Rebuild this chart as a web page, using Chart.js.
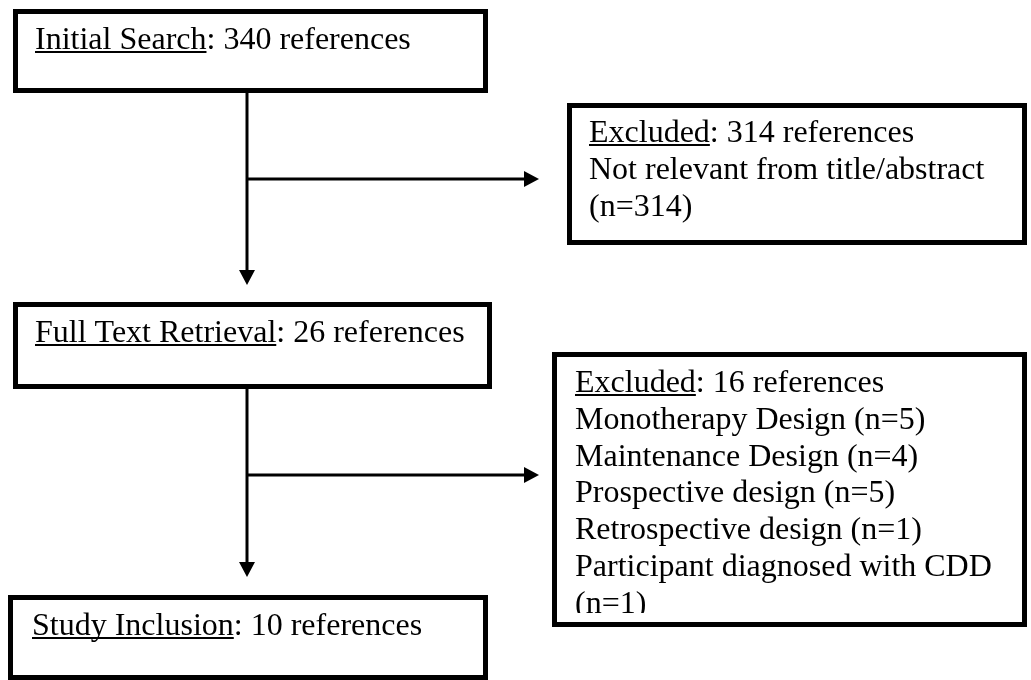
<!DOCTYPE html>
<html>
<head>
<meta charset="utf-8">
<script src="https://cdn.jsdelivr.net/npm/chart.js@4.4.1/dist/chart.umd.min.js"></script>
<style>
  html, body { margin: 0; padding: 0; background: #fff; }
  #wrap { width: 1031px; height: 680px; }
</style>
</head>
<body>
<div id="wrap"><canvas id="flow" width="1031" height="680"></canvas></div>
<script>
// flow chart content
const stageTitles = ['Initial Search', 'Full Text Retrieval', 'Study Inclusion'];
const stageCounts = [340, 26, 10];
const excludedCounts = [314, 16];
const reasonsFirst = ['Not relevant from title/abstract'];
const reasonsFirstN = [314];
const reasonsSecond = ['Monotherapy Design', 'Maintenance Design', 'Prospective design', 'Retrospective design', 'Participant diagnosed with CDD'];
const reasonsSecondN = [5, 4, 5, 1, 1];

// layout in canvas units (x: 0..1031, y: 0..680 top-down)
const FONT = '32px "Liberation Serif", "Times New Roman", serif';
const LINE_H = 36.8;
const BORDER = 5;
const boxes = [
  { x: 13, y: 9, w: 475, h: 84, tx: 35, ty: 49, clipB: 88 },      // initial search
  { x: 567, y: 103, w: 460, h: 142, tx: 589, ty: 142, clipB: 240 }, // excluded 1
  { x: 13, y: 302, w: 479, h: 87, tx: 35, ty: 342, clipB: 384 },   // full text
  { x: 552, y: 352, w: 475, h: 275, tx: 575, ty: 392, clipB: 613 }, // excluded 2
  { x: 8, y: 595, w: 480, h: 85, tx: 32, ty: 635, clipB: 675 }     // inclusion
];
const arrows = [
  { x1: 247, y1: 93, x2: 247, y2: 285 },
  { x1: 247, y1: 179, x2: 539, y2: 179 },
  { x1: 247, y1: 389, x2: 247, y2: 577 },
  { x1: 247, y1: 475, x2: 539, y2: 475 }
];

function boxLines(i) {
  if (i === 0) return { title: stageTitles[0], rest: ': ' + stageCounts[0] + ' references', lines: [] };
  if (i === 2) return { title: stageTitles[1], rest: ': ' + stageCounts[1] + ' references', lines: [] };
  if (i === 4) return { title: stageTitles[2], rest: ': ' + stageCounts[2] + ' references', lines: [] };
  if (i === 1) return { title: 'Excluded', rest: ': ' + excludedCounts[0] + ' references',
    lines: reasonsFirst.map((r, k) => r + ' (n=' + reasonsFirstN[k] + ')') };
  return { title: 'Excluded', rest: ': ' + excludedCounts[1] + ' references',
    lines: reasonsSecond.map((r, k) => r + ' (n=' + reasonsSecondN[k] + ')') };
}

function wrap(ctx, text, maxW) {
  const words = text.split(' ');
  const out = [];
  let cur = '';
  words.forEach(w => {
    const t = cur ? cur + ' ' + w : w;
    if (ctx.measureText(t).width > maxW && cur) { out.push(cur); cur = w; }
    else cur = t;
  });
  if (cur) out.push(cur);
  return out;
}

const flowPlugin = {
  id: 'flow',
  beforeDraw(chart) {
    const ctx = chart.ctx;
    ctx.save();
    ctx.fillStyle = '#fff';
    ctx.fillRect(0, 0, chart.width, chart.height);
    ctx.restore();
  },
  afterDraw(chart) {
    const ctx = chart.ctx;
    const sx = chart.scales.x, sy = chart.scales.y;
    const px = v => sx.getPixelForValue(v);
    const py = v => sy.getPixelForValue(v);
    ctx.save();
    ctx.strokeStyle = '#000';
    ctx.fillStyle = '#000';

    boxes.forEach((b, i) => {
      const x0 = px(b.x), y0 = py(b.y), x1 = px(b.x + b.w), y1 = py(b.y + b.h);
      ctx.lineWidth = BORDER;
      ctx.strokeRect(x0 + BORDER / 2, y0 + BORDER / 2, x1 - x0 - BORDER, y1 - y0 - BORDER);

      // text is clipped to the box's inner margin, like the source text box
      ctx.save();
      ctx.beginPath();
      ctx.rect(x0 + BORDER, y0 + BORDER, x1 - x0 - 2 * BORDER, py(b.clipB) - y0 - BORDER);
      ctx.clip();
      ctx.font = FONT;
      ctx.textBaseline = 'alphabetic';
      ctx.textAlign = 'left';
      const c = boxLines(i);
      const tx = px(b.tx);
      let ty = py(b.ty);
      ctx.fillText(c.title, tx, ty);
      const tw = ctx.measureText(c.title).width;
      ctx.fillRect(tx, ty + 2, tw, 2);
      ctx.fillText(c.rest, tx + tw, ty);
      const maxW = x1 - BORDER - tx - 6;
      c.lines.forEach(l => {
        wrap(ctx, l, maxW).forEach(s => {
          ty += LINE_H;
          ctx.fillText(s, tx, ty);
        });
      });
      ctx.restore();
    });

    ctx.lineWidth = 3;
    arrows.forEach(a => {
      const x1 = px(a.x1), y1 = py(a.y1), x2 = px(a.x2), y2 = py(a.y2);
      const ang = Math.atan2(y2 - y1, x2 - x1);
      const len = 15, half = 8;
      const bx = x2 - len * Math.cos(ang), by = y2 - len * Math.sin(ang);
      ctx.beginPath();
      ctx.moveTo(x1, y1);
      ctx.lineTo(bx, by);
      ctx.stroke();
      ctx.beginPath();
      ctx.moveTo(x2, y2);
      ctx.lineTo(bx - half * Math.sin(ang), by + half * Math.cos(ang));
      ctx.lineTo(bx + half * Math.sin(ang), by - half * Math.cos(ang));
      ctx.closePath();
      ctx.fill();
    });
    ctx.restore();
  }
};

new Chart(document.getElementById('flow').getContext('2d'), {
  type: 'scatter',
  data: { datasets: [{ data: [] }] },
  options: {
    responsive: false,
    animation: false,
    devicePixelRatio: 1,
    layout: { padding: 0 },
    plugins: { legend: { display: false }, tooltip: { enabled: false } },
    scales: {
      x: { type: 'linear', min: 0, max: 1031, display: false },
      y: { type: 'linear', min: 0, max: 680, reverse: true, display: false }
    }
  },
  plugins: [flowPlugin]
});
</script>
</body>
</html>
